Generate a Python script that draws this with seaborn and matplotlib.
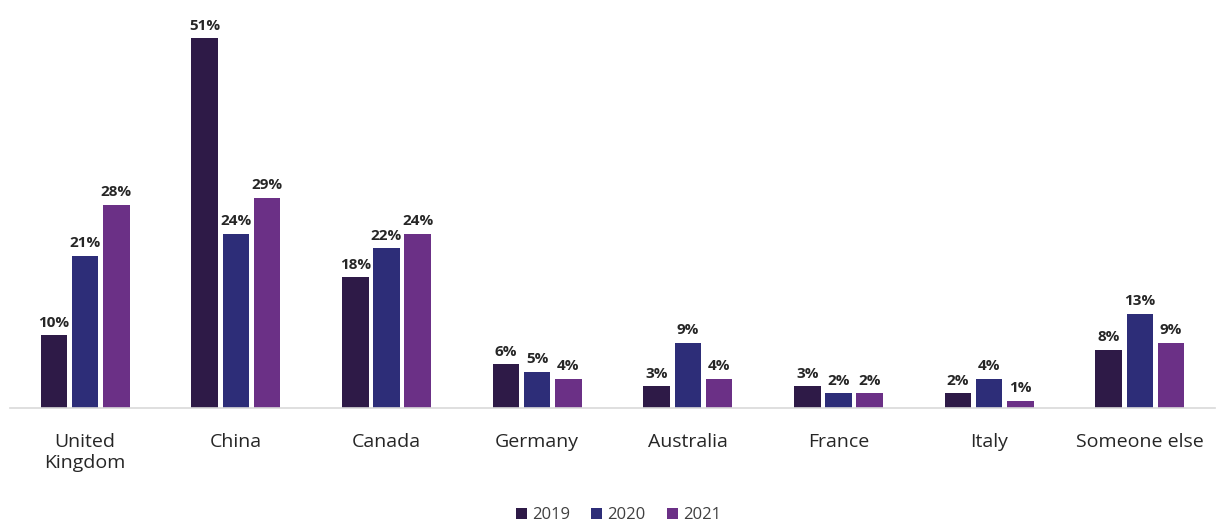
import matplotlib
matplotlib.use("Agg")
import matplotlib.pyplot as plt
import seaborn as sns
import pandas as pd

categories = ["United\nKingdom", "China", "Canada", "Germany", "Australia", "France", "Italy", "Someone else"]
years = ["2019", "2020", "2021"]
v2019 = [10, 51, 18, 6, 3, 3, 2, 8]
v2020 = [21, 24, 22, 5, 9, 2, 4, 13]
v2021 = [28, 29, 24, 4, 4, 2, 1, 9]
colors = ["#2E1A47", "#2D2D78", "#6B3086"]

rows = []
for yr, vals in zip(years, [v2019, v2020, v2021]):
    for c, v in zip(categories, vals):
        rows.append({"country": c, "year": yr, "value": v})
df = pd.DataFrame(rows)

sns.set_theme(style="white")
plt.rcParams['font.family'] = ['Open Sans', 'DejaVu Sans']

fig = plt.figure(figsize=(12.25, 5.25), dpi=100)
ax = fig.add_axes([0.008, 0.223, 0.984, 0.739])
sns.barplot(data=df, x="country", y="value", hue="year", palette=colors,
            width=0.62, gap=0.15, ax=ax, legend=True, saturation=1, linewidth=0)

for cont in ax.containers:
    ax.bar_label(cont, labels=[f"{int(v)}%" for v in cont.datavalues],
                 padding=4, fontsize=11, fontweight="bold", color="#262626")

ax.set_ylim(0, 53.5)
ax.set_xlim(-0.5, 7.5)
ax.set_yticks([])
ax.set_xlabel("")
ax.set_ylabel("")
for s in ["top", "right", "left"]:
    ax.spines[s].set_visible(False)
ax.spines["bottom"].set_color("#d9d9d9")
ax.spines["bottom"].set_linewidth(1.2)
ax.tick_params(axis="x", length=0, pad=18, labelsize=14, labelcolor="#262626")

leg = ax.legend(loc="center", bbox_to_anchor=(0.505, -0.276), ncol=3, frameon=False,
                fontsize=12, handlelength=0.65, handleheight=0.65, handletextpad=0.3,
                columnspacing=1.3)
for t in leg.get_texts():
    t.set_color("#404040")

fig.savefig("out.png", dpi=100)
